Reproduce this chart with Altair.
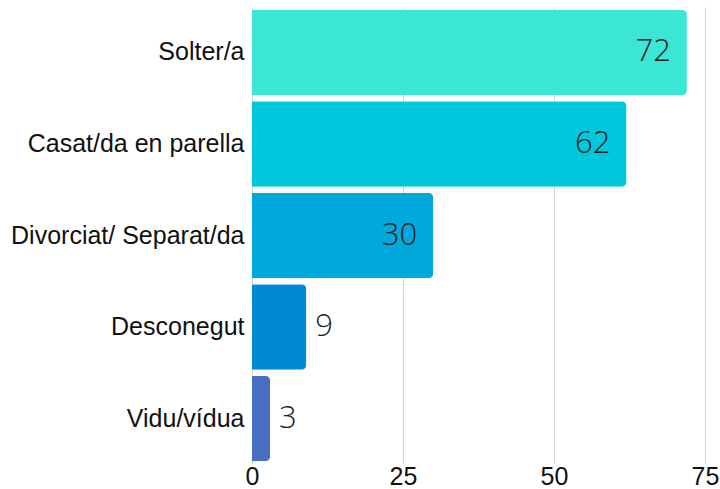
import altair as alt
import pandas as pd

categories = ["Solter/a", "Casat/da en parella", "Divorciat/ Separat/da", "Desconegut", "Vidu/vídua"]
values = [72, 62, 30, 9, 3]
colors = ["#3ce6d7", "#00c8dc", "#00a9dc", "#0089d4", "#4a6ec0"]

df = pd.DataFrame({"cat": categories, "val": values, "color": colors})

y = alt.Y("cat:N", sort=categories, title=None,
          scale=alt.Scale(paddingInner=0.066, paddingOuter=0.03),
          axis=alt.Axis(labelFont="Liberation Sans", labelFontSize=25, labelColor="#111",
                        ticks=False, domain=False, labelPadding=8, labelLimit=400))
x = alt.X("val:Q", title=None, scale=alt.Scale(domain=[0, 75], nice=False),
          axis=alt.Axis(values=[0, 25, 50, 75], labelFont="Liberation Sans", labelFontSize=25,
                        labelColor="#111", ticks=False, domain=False, grid=True, labelFlush=False,
                        gridColor="#d4d4d4", labelPadding=0))

bars = alt.Chart(df).mark_bar(cornerRadiusTopRight=5, cornerRadiusBottomRight=5).encode(
    x=x, y=y, color=alt.Color("color:N", scale=None))

inside = alt.Chart(df).transform_filter("datum.val >= 20").mark_text(
    align="right", dx=-16, font="Open Sans", fontWeight=300, fontSize=31, color="#222").encode(
    x="val:Q", y=alt.Y("cat:N", sort=categories), text="val:Q")
outside = alt.Chart(df).transform_filter("datum.val < 20").mark_text(
    align="left", dx=9, font="Open Sans", fontWeight=300, fontSize=31, color="#222").encode(
    x="val:Q", y=alt.Y("cat:N", sort=categories), text="val:Q")

chart = alt.layer(bars, inside, outside).properties(
    width=720, height=489,
    autosize=alt.AutoSizeParams(type="fit", contains="padding"),
    padding={"left": 10, "top": 7, "right": 1, "bottom": 0}
).configure_view(stroke=None)

chart.save("out.html", embed_options={"renderer": "svg", "actions": False})
